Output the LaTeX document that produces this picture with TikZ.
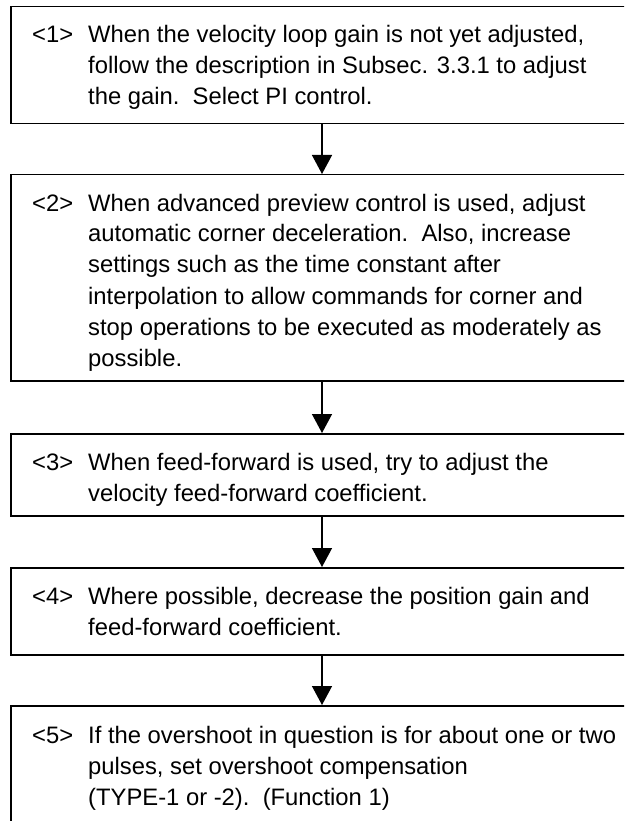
\documentclass[tikz,border=0pt]{standalone}
\usepackage{fontspec}
\setmainfont{Liberation Sans}
\usetikzlibrary{arrows.meta}
\begin{document}
\begin{tikzpicture}[x=1pt,y=-1pt,
  stepbox/.style={draw=black,line width=1.5pt,minimum width=622pt,inner sep=0pt,anchor=north},
  flow/.style={draw=black,line width=1.4pt,-{Triangle[width=20pt,length=19pt]}},
  tag/.style={anchor=base west,inner sep=0pt,font=\fontsize{23.8}{31}\selectfont},
  body/.style={anchor=base west,inner sep=0pt,font=\fontsize{23.8}{31}\selectfont}]
\useasboundingbox (0,0) rectangle (624,821);
\clip (0,0) rectangle (624,821);

% frames of the five steps
\node[stepbox,minimum height=117pt] (b1) at (322,6) {};
\node[stepbox,minimum height=206pt] (b2) at (322,174) {};
\node[stepbox,minimum height=82pt]  (b3) at (322,433) {};
\node[stepbox,minimum height=87pt]  (b4) at (322,567) {};
\node[stepbox,minimum height=117pt] (b5) at (322,705) {};

% step numbers
\node[tag] (n1) at (32,43)  {<1>};
\node[tag] (n2) at (32,211) {<2>};
\node[tag] (n3) at (32,470) {<3>};
\node[tag] (n4) at (32,604) {<4>};
\node[tag] (n5) at (32,743) {<5>};

% step texts
\node[body] (t1) at (88,43) {\parbox[t]{540pt}{\raggedright
  When the velocity loop gain is not yet adjusted,\\
  follow the description in Subsec. 3.3.1 to adjust\\
  the gain.\ \ Select PI control.}};
\node[body] (t2) at (88,211) {\parbox[t]{540pt}{\raggedright
  When advanced preview control is used, adjust\\
  automatic corner deceleration.\ \ Also, increase\\
  settings such as the time constant after\\
  interpolation to allow commands for corner and\\
  stop operations to be executed as moderately as\\
  possible.}};
\node[body] (t3) at (88,470) {\parbox[t]{540pt}{\raggedright
  When feed-forward is used, try to adjust the\\
  velocity feed-forward coefficient.}};
\node[body] (t4) at (88,604) {\parbox[t]{540pt}{\raggedright
  Where possible, decrease the position gain and\\
  feed-forward coefficient.}};
\node[body] (t5) at (88,743) {\parbox[t]{540pt}{\raggedright
  If the overshoot in question is for about one or two\\
  pulses, set overshoot compensation\\
  (TYPE-1 or -2).\ \ (Function 1)}};

% flow arrows
\draw[flow] (b1.south) -- (b2.north);
\draw[flow] (b2.south) -- (b3.north);
\draw[flow] (b3.south) -- (b4.north);
\draw[flow] (b4.south) -- (b5.north);
\end{tikzpicture}
\end{document}
